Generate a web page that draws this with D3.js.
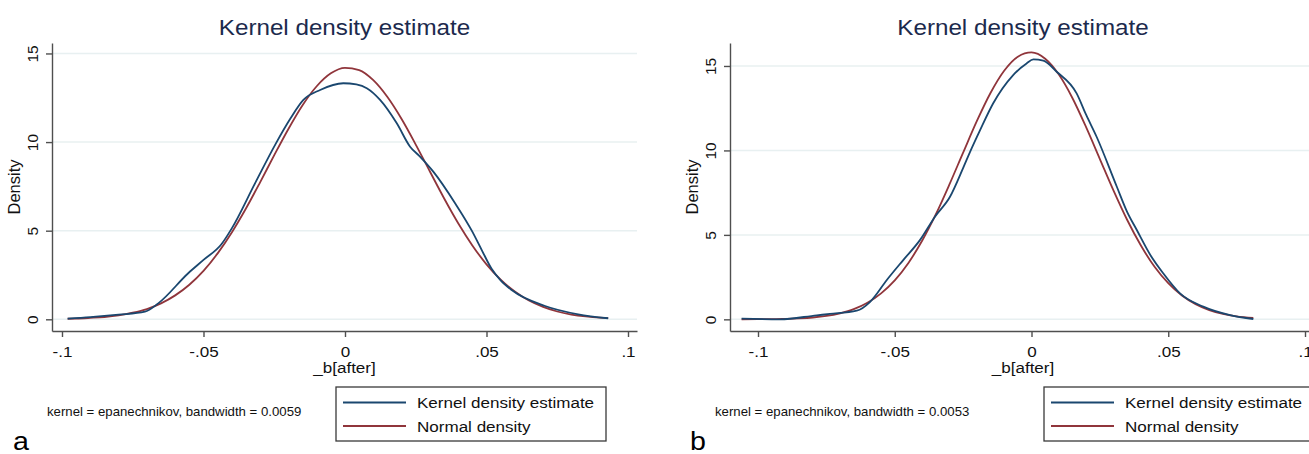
<!DOCTYPE html>
<html>
<head>
<meta charset="utf-8">
<script src="https://cdn.jsdelivr.net/npm/d3@7"></script>
<style>
    body { margin: 0; background: #fff; }
    svg text { font-family: "Liberation Sans", Arial, sans-serif; }
</style>
</head>
<body>
<svg id="chart" width="1309" height="454"></svg>
<script>
// ===== DATA =====
const xTicks = [-0.1, -0.05, 0, 0.05, 0.1];
const xTickLabels = ["-.1", "-.05", "0", ".05", ".1"];
const yTicks = [0, 5, 10, 15];
const legendLabels = ["Kernel density estimate", "Normal density"];
const titleText = "Kernel density estimate";
const xTitle = "_b[after]";
const yTitle = "Density";
const notes = ["kernel = epanechnikov, bandwidth = 0.0059", "kernel = epanechnikov, bandwidth = 0.0053"];
const panelLetters = ["a", "b"];

// panel a – kernel density estimate
const kdeA_x = [-0.098, -0.09, -0.08, -0.0707, -0.066, -0.0554, -0.05, -0.0436, -0.04, -0.0318, -0.0245, -0.0194,
    -0.0147, -0.0088, -0.0006, 0.004, 0.0077, 0.0124, 0.0183, 0.023, 0.0265, 0.0312, 0.0389, 0.0448, 0.0485,
    0.0518, 0.055, 0.0589, 0.0707, 0.0824, 0.093];
const kdeA_y = [0.04, 0.12, 0.26, 0.43, 0.9, 2.6, 3.35, 4.25, 5.13, 7.67, 9.9, 11.3,
    12.38, 12.94, 13.32, 13.25, 13.04, 12.38, 11.06, 9.74, 9.18, 8.33, 6.55, 5.0, 3.85,
    2.85, 2.2, 1.65, 0.75, 0.28, 0.06];
// panel a – normal density
const normA_x = [-0.098, -0.095, -0.09, -0.085, -0.08, -0.075, -0.07, -0.065, -0.06, -0.055, -0.05, -0.045,
    -0.04, -0.035, -0.03, -0.025, -0.02, -0.015, -0.01, -0.005, 0, 0.005, 0.01, 0.015, 0.02, 0.025, 0.03,
    0.035, 0.04, 0.045, 0.05, 0.055, 0.06, 0.065, 0.07, 0.075, 0.08, 0.085, 0.09, 0.093];
const normA_y = [0.03, 0.04, 0.08, 0.13, 0.22, 0.37, 0.58, 0.9, 1.35, 1.95, 2.73, 3.72,
    4.9, 6.25, 7.73, 9.26, 10.74, 12.08, 13.15, 13.88, 14.19, 14.06, 13.49, 12.54, 11.3, 9.86, 8.34,
    6.83, 5.42, 4.17, 3.1, 2.24, 1.57, 1.06, 0.7, 0.44, 0.27, 0.16, 0.09, 0.07];

// panel b – kernel density estimate
const kdeB_x = [-0.106, -0.092, -0.0785, -0.0737, -0.0639, -0.059, -0.0529, -0.0469, -0.0408, -0.0353, -0.0298,
    -0.0249, -0.0225, -0.0188, -0.014, -0.0067, -0.0018, 0.0007, 0.0043, 0.0092, 0.0165, 0.02, 0.0238, 0.0312,
    0.035, 0.0385, 0.0435, 0.0482, 0.0543, 0.0628, 0.0726, 0.0811];
const kdeB_y = [0.04, 0.0, 0.24, 0.32, 0.51, 1.04, 2.33, 3.51, 4.69, 6.08, 7.26,
    9.0, 9.9, 11.2, 12.79, 14.46, 15.15, 15.39, 15.31, 14.66, 13.38, 12.1, 10.81, 7.85,
    6.35, 5.29, 3.8, 2.72, 1.54, 0.75, 0.25, 0.02];
// panel b – normal density
const normB_x = [-0.106, -0.1, -0.095, -0.09, -0.085, -0.08, -0.075, -0.07, -0.065, -0.06, -0.055, -0.05,
    -0.045, -0.04, -0.035, -0.03, -0.025, -0.02, -0.015, -0.01, -0.005, 0, 0.005, 0.01, 0.015, 0.02, 0.025,
    0.03, 0.035, 0.04, 0.045, 0.05, 0.055, 0.06, 0.065, 0.07, 0.075, 0.0811];
const normB_y = [0.0, 0.01, 0.01, 0.03, 0.06, 0.11, 0.2, 0.36, 0.6, 0.98, 1.54, 2.31,
    3.34, 4.65, 6.21, 7.99, 9.87, 11.73, 13.4, 14.72, 15.55, 15.8, 15.43, 14.49, 13.09, 11.36, 9.49,
    7.62, 5.88, 4.37, 3.11, 2.14, 1.41, 0.9, 0.55, 0.32, 0.18, 0.09];

// ===== LAYOUT =====
const BLUE = "#1a476f";
const RED = "#90353b";
const GRID = "#e8f0f1";
const AXIS = "#4f4f4f";
const TITLE = "#1c2a4d";
const K = 1.1; // the scanned figure is slightly stretched sideways

const panels = [
    { left: 52, right: 637, xDomain: [-0.10353, 0.10318], yDomain: [-0.66, 15.59],
      kde: d3.zip(kdeA_x, kdeA_y), norm: d3.zip(normA_x, normA_y),
      note: notes[0], letter: panelLetters[0], noteX: 47, letterX: 13, legendX: 336, legendW: 270 },
    { left: 730, right: 1316, xDomain: [-0.11024, 0.10402], yDomain: [-0.69, 16.36],
      kde: d3.zip(kdeB_x, kdeB_y), norm: d3.zip(normB_x, normB_y),
      note: notes[1], letter: panelLetters[1], noteX: 715, letterX: 690, legendX: 1044, legendW: 270 }
];
const plotTop = 43, plotBottom = 331;

const svg = d3.select('#chart');

function hText(g, x, y, str, size, anchor, fill) {
    return g.append('text')
        .attr('transform', `translate(${x},${y}) scale(${K},1)`)
        .attr('text-anchor', anchor || 'start')
        .attr('font-size', size + 'px')
        .attr('fill', fill || '#111')
        .text(str);
}

panels.forEach(p => {
    const g = svg.append('g');
    const x = d3.scaleLinear().domain(p.xDomain).range([p.left, p.right]);
    const y = d3.scaleLinear().domain(p.yDomain).range([plotBottom, plotTop]);
    const mid = (p.left + p.right) / 2;

    // Grid lines
    g.append('g')
        .selectAll('line')
        .data(yTicks)
        .enter().append('line')
        .attr('x1', p.left)
        .attr('x2', p.right)
        .attr('y1', d => y(d))
        .attr('y2', d => y(d))
        .attr('stroke', GRID)
        .attr('stroke-width', 1.5);

    // Y axis
    const yAxis = g.append('g')
        .attr('transform', `translate(${p.left},0)`)
        .call(d3.axisLeft(y).tickValues(yTicks).tickSize(6).tickSizeOuter(0).tickFormat(d3.format('d')));
    yAxis.selectAll('text')
        .attr('x', null)
        .attr('dy', null)
        .attr('transform', 'translate(-14,0) rotate(-90)')
        .attr('text-anchor', 'middle')
        .attr('font-size', '15.5px')
        .attr('fill', '#111');

    // X axis
    const xAxis = g.append('g')
        .attr('transform', `translate(0,${plotBottom})`)
        .call(d3.axisBottom(x).tickValues(xTicks).tickSize(6).tickSizeOuter(0)
            .tickFormat((d, i) => xTickLabels[i]));
    xAxis.selectAll('text')
        .attr('y', 26)
        .attr('dy', null)
        .attr('transform', `scale(${K},1)`)
        .attr('font-size', '15.5px')
        .attr('fill', '#111');

    [yAxis, xAxis].forEach(a => {
        a.attr('font-family', null);
        a.selectAll('path, line').attr('stroke', AXIS).attr('stroke-width', 1.4);
    });

    // Curves
    const line = d3.line()
        .x(d => x(d[0]))
        .y(d => y(d[1]))
        .curve(d3.curveMonotoneX);

    g.append('path')
        .datum(p.norm)
        .attr('d', line)
        .attr('fill', 'none')
        .attr('stroke', RED)
        .attr('stroke-width', 1.8);

    g.append('path')
        .datum(p.kde)
        .attr('d', line)
        .attr('fill', 'none')
        .attr('stroke', BLUE)
        .attr('stroke-width', 1.8);

    // Titles
    hText(g, mid, 35, titleText, 22, 'middle', TITLE);
    hText(g, mid, 373, xTitle, 15.5, 'middle');
    g.append('text')
        .attr('transform', `translate(${p.left - 32},${(plotTop + plotBottom) / 2}) rotate(-90)`)
        .attr('text-anchor', 'middle')
        .attr('font-size', '16.5px')
        .attr('fill', '#111')
        .text(yTitle);

    // Note and panel letter
    hText(g, p.noteX, 416, p.note, 12);
    hText(g, p.letterX, 450, p.letter, 26, 'start', '#000');

    // Legend
    const lg = g.append('g').attr('transform', `translate(${p.legendX},387)`);
    lg.append('rect')
        .attr('width', p.legendW)
        .attr('height', 54)
        .attr('fill', '#fff')
        .attr('stroke', '#3a3a3a')
        .attr('stroke-width', 1.3);
    [BLUE, RED].forEach((c, i) => {
        const ly = 15.5 + i * 23.5;
        lg.append('line')
            .attr('x1', 7).attr('x2', 70)
            .attr('y1', ly).attr('y2', ly)
            .attr('stroke', c)
            .attr('stroke-width', 1.8);
        hText(lg, 81, ly + 5.5, legendLabels[i], 15.5);
    });
});
</script>
</body>
</html>
